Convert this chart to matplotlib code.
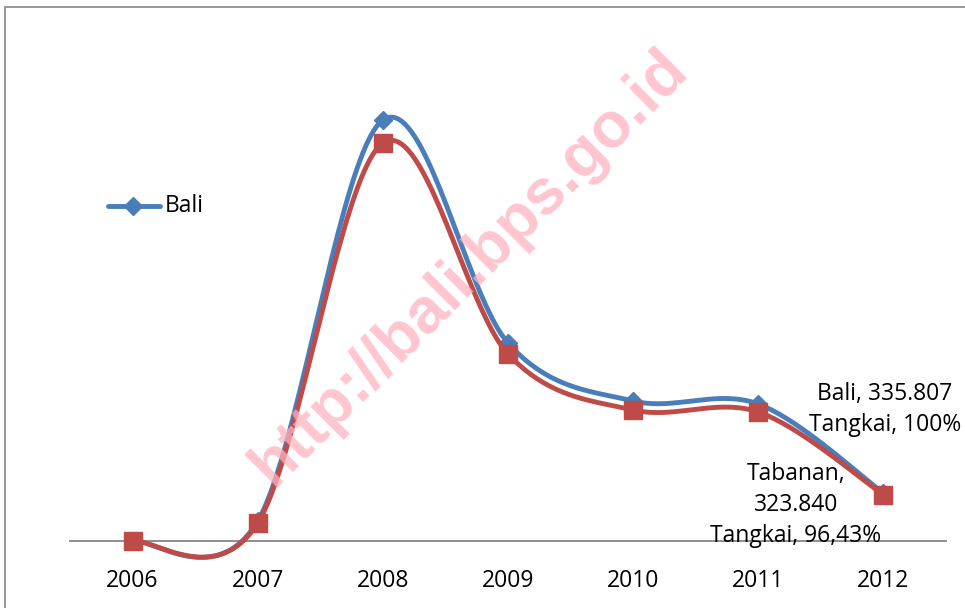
import numpy as np
import matplotlib.pyplot as plt
from matplotlib.patches import Rectangle

years = [2006, 2007, 2008, 2009, 2010, 2011, 2012]
bali = [0, 140000, 2947000, 1386000, 980000, 959000, 335807]
tabanan = [0, 126000, 2786000, 1309000, 917000, 903000, 323840]


# kurva halus ala Excel (Bezier dengan titik kontrol 1/6)
def smooth(x, y, n=40):
    x = np.asarray(x, float)
    y = np.asarray(y, float)
    px = np.concatenate([[x[0]], x, [x[-1]]])
    py = np.concatenate([[y[0]], y, [y[-1]]])
    xs, ys = [], []
    t = np.linspace(0, 1, n)
    for i in range(len(x) - 1):
        p0 = np.array([px[i + 1], py[i + 1]])
        p3 = np.array([px[i + 2], py[i + 2]])
        c1 = p0 + (p3 - np.array([px[i], py[i]])) / 6
        c2 = p3 - (np.array([px[i + 3], py[i + 3]]) - p0) / 6
        b = ((1 - t) ** 3)[:, None] * p0 + (3 * (1 - t) ** 2 * t)[:, None] * c1 \
            + (3 * (1 - t) * t ** 2)[:, None] * c2 + (t ** 3)[:, None] * p3
        xs.extend(b[:, 0])
        ys.extend(b[:, 1])
    return xs, ys


plt.rcParams['font.family'] = ['Open Sans', 'DejaVu Sans']

fig = plt.figure(figsize=(9.65, 6.08), dpi=100)
W, H = 965, 608
ax = fig.add_axes([70 / W, (H - 541) / H, 876 / W, 521 / H])

blue = '#4a7ebb'
red = '#be4b48'

bx, by = smooth(years, bali)
tx, ty = smooth(years, tabanan)
ax.plot(bx, by, color=blue, lw=3.5, clip_on=False, solid_capstyle='round', zorder=3)
ax.plot(years, bali, 'D', color=blue, ms=9, clip_on=False, zorder=4)
ax.plot(tx, ty, color=red, lw=3.5, clip_on=False, solid_capstyle='round', zorder=5)
ax.plot(years, tabanan, 's', color=red, ms=13, clip_on=False, zorder=6)

ax.set_xlim(2005.5, 2012.5)
ax.set_ylim(0, 3647000)
for s in ['top', 'right', 'left']:
    ax.spines[s].set_visible(False)
ax.spines['bottom'].set_color('#868686')
ax.spines['bottom'].set_linewidth(1.3)
ax.set_yticks([])
ax.set_xticks(years)
ax.set_xticklabels([str(y) for y in years], fontsize=16.5)
ax.tick_params(axis='x', length=0, pad=20)

# legenda
ax.plot([2005.8, 2006.22], [2345000, 2345000], color=blue, lw=3.5,
        clip_on=False, solid_capstyle='round')
ax.plot([2006.0], [2345000], 'D', color=blue, ms=9, clip_on=False)
ax.text(2006.26, 2345000, 'Bali', fontsize=16.5, va='center', ha='left')

# label data
ax.text(2012.01, 920000, 'Bali, 335.807\nTangkai, 100%', fontsize=16.5,
        ha='center', va='center', linespacing=1.4)
ax.text(2011.3, 250000, 'Tabanan,\n323.840\nTangkai, 96,43%', fontsize=16.5,
        ha='center', va='center', linespacing=1.4, zorder=7)

# watermark
fig.text(470 / W, 1 - 268 / H, 'http://bali.bps.go.id', fontsize=46,
         fontweight='bold', family='Liberation Sans', color='#ffb3c1',
         alpha=0.75, rotation=45, ha='center', va='center', zorder=10)

fig.patches.append(Rectangle((5 / W, -0.02), 1.0, 1 - 7 / H + 0.02,
                             transform=fig.transFigure, fill=False,
                             edgecolor='#868686', lw=1.2))

fig.savefig('out.png', dpi=100)
